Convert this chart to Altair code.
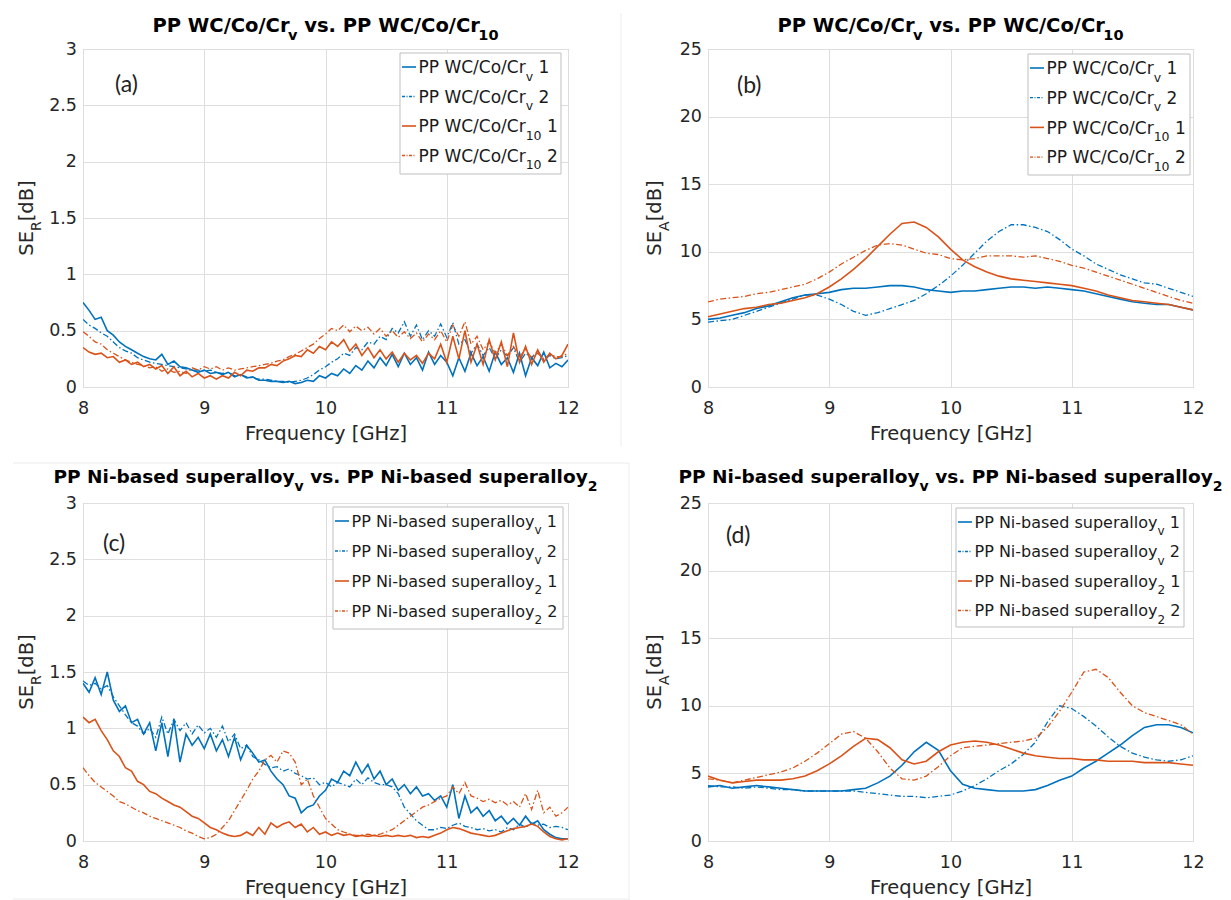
import altair as alt
import pandas as pd

# ---------------- data ----------------
FREQ_R = [8.00, 8.05, 8.10, 8.15, 8.20, 8.25, 8.30, 8.35, 8.40, 8.45,
          8.50, 8.55, 8.60, 8.65, 8.70, 8.75, 8.80, 8.85, 8.90, 8.95,
          9.00, 9.05, 9.10, 9.15, 9.20, 9.25, 9.30, 9.35, 9.40, 9.45,
          9.50, 9.55, 9.60, 9.65, 9.70, 9.75, 9.80, 9.85, 9.90, 9.95,
          10.00, 10.05, 10.10, 10.15, 10.20, 10.25, 10.30, 10.35, 10.40, 10.45,
          10.50, 10.55, 10.60, 10.65, 10.70, 10.75, 10.80, 10.85, 10.90, 10.95,
          11.00, 11.05, 11.10, 11.15, 11.20, 11.25, 11.30, 11.35, 11.40, 11.45,
          11.50, 11.55, 11.60, 11.65, 11.70, 11.75, 11.80, 11.85, 11.90, 11.95,
          12.00]
FREQ_A = [8.0, 8.1, 8.2, 8.3, 8.4, 8.5, 8.6, 8.7, 8.8, 8.9,
          9.0, 9.1, 9.2, 9.3, 9.4, 9.5, 9.6, 9.7, 9.8, 9.9,
          10.0, 10.1, 10.2, 10.3, 10.4, 10.5, 10.6, 10.7, 10.8, 10.9,
          11.0, 11.1, 11.2, 11.3, 11.4, 11.5, 11.6, 11.7, 11.8, 11.9,
          12.0]

# (a) SE_R, PP WC/Co/Cr
SER_WC_V1 = [0.75, 0.68, 0.60, 0.62, 0.50, 0.46, 0.40, 0.36, 0.33, 0.30, 0.27, 0.25, 0.24, 0.29, 0.20, 0.23, 0.18, 0.17, 0.15, 0.13,
             0.15, 0.12, 0.13, 0.11, 0.13, 0.09, 0.11, 0.08, 0.09, 0.06, 0.06, 0.05, 0.05, 0.04, 0.05, 0.03, 0.04, 0.06, 0.05, 0.10,
             0.08, 0.12, 0.10, 0.16, 0.12, 0.19, 0.15, 0.23, 0.17, 0.26, 0.19, 0.29, 0.18, 0.30, 0.20, 0.26, 0.15, 0.31, 0.20, 0.28,
             0.22, 0.10, 0.26, 0.14, 0.30, 0.19, 0.27, 0.14, 0.31, 0.20, 0.26, 0.13, 0.30, 0.10, 0.26, 0.19, 0.31, 0.17, 0.21, 0.18,
             0.24]
SER_WC_V2 = [0.60, 0.55, 0.52, 0.48, 0.45, 0.40, 0.35, 0.32, 0.30, 0.26, 0.24, 0.22, 0.21, 0.20, 0.19, 0.18, 0.17, 0.16, 0.15, 0.15,
             0.14, 0.15, 0.13, 0.12, 0.13, 0.10, 0.11, 0.09, 0.08, 0.07, 0.07, 0.06, 0.05, 0.05, 0.04, 0.05, 0.06, 0.08, 0.11, 0.15,
             0.18, 0.22, 0.25, 0.30, 0.28, 0.35, 0.33, 0.40, 0.38, 0.45, 0.42, 0.52, 0.48, 0.58, 0.45, 0.55, 0.42, 0.50, 0.45, 0.56,
             0.44, 0.57, 0.38, 0.42, 0.30, 0.38, 0.28, 0.35, 0.25, 0.33, 0.27, 0.35, 0.22, 0.30, 0.26, 0.32, 0.24, 0.28, 0.25, 0.26,
             0.28]
SER_WC_10_1 = [0.35, 0.31, 0.29, 0.30, 0.26, 0.27, 0.22, 0.24, 0.20, 0.22, 0.18, 0.20, 0.16, 0.19, 0.12, 0.18, 0.10, 0.14, 0.09, 0.12,
               0.08, 0.10, 0.07, 0.10, 0.08, 0.13, 0.10, 0.15, 0.14, 0.17, 0.17, 0.20, 0.19, 0.23, 0.25, 0.28, 0.27, 0.33, 0.30, 0.36,
               0.33, 0.40, 0.36, 0.42, 0.32, 0.38, 0.28, 0.35, 0.26, 0.33, 0.25, 0.31, 0.22, 0.30, 0.24, 0.28, 0.21, 0.30, 0.25, 0.38,
               0.22, 0.45, 0.25, 0.50, 0.22, 0.38, 0.20, 0.42, 0.24, 0.40, 0.18, 0.48, 0.22, 0.36, 0.20, 0.33, 0.22, 0.30, 0.25, 0.28,
               0.38]
SER_WC_10_2 = [0.49, 0.45, 0.40, 0.38, 0.33, 0.30, 0.27, 0.24, 0.22, 0.20, 0.19, 0.17, 0.18, 0.14, 0.16, 0.13, 0.14, 0.12, 0.17, 0.15,
               0.18, 0.16, 0.18, 0.15, 0.17, 0.15, 0.16, 0.17, 0.18, 0.19, 0.20, 0.21, 0.23, 0.24, 0.27, 0.29, 0.32, 0.35, 0.38, 0.43,
               0.47, 0.52, 0.50, 0.55, 0.49, 0.54, 0.50, 0.53, 0.47, 0.52, 0.45, 0.50, 0.44, 0.49, 0.43, 0.48, 0.40, 0.47, 0.42, 0.50,
               0.40, 0.55, 0.45, 0.58, 0.38, 0.45, 0.33, 0.40, 0.30, 0.38, 0.28, 0.36, 0.27, 0.33, 0.26, 0.30, 0.25, 0.29, 0.27, 0.27,
               0.30]

# (b) SE_A, PP WC/Co/Cr
SEA_WC_V1 = [5.0, 5.1, 5.3, 5.5, 5.8, 6.0, 6.3, 6.6, 6.8, 6.9, 7.0, 7.2, 7.3, 7.3, 7.4, 7.5, 7.5, 7.4, 7.2, 7.1,
             7.0, 7.1, 7.1, 7.2, 7.3, 7.4, 7.4, 7.3, 7.4, 7.3, 7.2, 7.1, 6.9, 6.7, 6.5, 6.3, 6.2, 6.1, 6.1, 5.9, 5.7]
SEA_WC_V2 = [4.8, 4.9, 5.0, 5.3, 5.6, 5.9, 6.2, 6.5, 6.8, 6.8, 6.5, 6.1, 5.6, 5.3, 5.5, 5.8, 6.1, 6.4, 6.9, 7.5,
             8.2, 9.0, 9.9, 10.8, 11.5, 12.0, 12.0, 11.8, 11.5, 10.9, 10.2, 9.7, 9.1, 8.7, 8.3, 8.0, 7.7, 7.6, 7.3, 7.0, 6.7]
SEA_WC_10_1 = [5.2, 5.4, 5.6, 5.8, 5.9, 6.1, 6.2, 6.4, 6.6, 6.9, 7.4, 8.0, 8.7, 9.5, 10.4, 11.3, 12.1, 12.2, 11.8, 11.1,
               10.2, 9.4, 8.9, 8.5, 8.2, 8.0, 7.9, 7.8, 7.7, 7.6, 7.5, 7.3, 7.1, 6.8, 6.6, 6.4, 6.3, 6.2, 6.1, 5.9, 5.7]
SEA_WC_10_2 = [6.3, 6.5, 6.6, 6.7, 6.9, 7.0, 7.2, 7.4, 7.6, 8.0, 8.5, 9.1, 9.6, 10.1, 10.5, 10.6, 10.5, 10.2, 9.9, 9.8,
               9.5, 9.4, 9.5, 9.7, 9.7, 9.7, 9.6, 9.7, 9.5, 9.3, 9.0, 8.8, 8.5, 8.2, 7.9, 7.6, 7.3, 7.0, 6.7, 6.4, 6.2]

# (c) SE_R, PP Ni-based superalloy
SER_NI_V1 = [1.40, 1.32, 1.45, 1.30, 1.50, 1.25, 1.15, 1.20, 1.05, 1.08, 0.95, 1.05, 0.80, 1.05, 0.75, 1.08, 0.70, 0.95, 0.85, 0.92,
             0.82, 0.95, 0.80, 0.90, 0.75, 0.92, 0.72, 0.85, 0.78, 0.70, 0.72, 0.62, 0.55, 0.50, 0.40, 0.38, 0.25, 0.30, 0.32, 0.40,
             0.45, 0.55, 0.52, 0.62, 0.58, 0.70, 0.60, 0.68, 0.55, 0.62, 0.50, 0.55, 0.45, 0.50, 0.42, 0.48, 0.40, 0.42, 0.36, 0.40,
             0.30, 0.50, 0.20, 0.40, 0.25, 0.30, 0.22, 0.27, 0.18, 0.22, 0.15, 0.20, 0.14, 0.22, 0.15, 0.18, 0.10, 0.06, 0.03, 0.02,
             0.02]
SER_NI_V2 = [1.42, 1.38, 1.40, 1.35, 1.38, 1.28, 1.20, 1.12, 1.05, 1.02, 0.95, 1.00, 0.92, 1.10, 0.95, 1.08, 0.98, 1.05, 0.95, 1.03,
             0.96, 1.00, 0.92, 1.02, 0.88, 0.95, 0.82, 0.85, 0.75, 0.72, 0.68, 0.65, 0.66, 0.62, 0.64, 0.60, 0.58, 0.55, 0.56, 0.50,
             0.52, 0.48, 0.52, 0.50, 0.48, 0.55, 0.50, 0.56, 0.52, 0.50, 0.50, 0.48, 0.42, 0.30, 0.24, 0.18, 0.14, 0.10, 0.10, 0.12,
             0.11, 0.14, 0.16, 0.13, 0.12, 0.10, 0.11, 0.09, 0.10, 0.08, 0.12, 0.10, 0.15, 0.12, 0.16, 0.14, 0.15, 0.12, 0.13, 0.12,
             0.10]
SER_NI_2_1 = [1.10, 1.05, 1.08, 0.98, 0.90, 0.80, 0.75, 0.65, 0.62, 0.53, 0.50, 0.44, 0.42, 0.38, 0.35, 0.32, 0.30, 0.26, 0.22, 0.20,
              0.16, 0.12, 0.10, 0.07, 0.05, 0.04, 0.05, 0.08, 0.05, 0.12, 0.06, 0.16, 0.12, 0.15, 0.17, 0.12, 0.15, 0.08, 0.12, 0.06,
              0.08, 0.05, 0.07, 0.05, 0.06, 0.04, 0.05, 0.04, 0.05, 0.04, 0.05, 0.04, 0.05, 0.04, 0.05, 0.03, 0.04, 0.03, 0.05, 0.07,
              0.10, 0.12, 0.11, 0.09, 0.07, 0.06, 0.05, 0.04, 0.05, 0.07, 0.09, 0.11, 0.12, 0.13, 0.15, 0.13, 0.08, 0.04, 0.02, 0.01,
              0.02]
SER_NI_2_2 = [0.65, 0.58, 0.52, 0.48, 0.44, 0.40, 0.35, 0.33, 0.30, 0.27, 0.25, 0.22, 0.20, 0.18, 0.16, 0.14, 0.12, 0.09, 0.07, 0.04,
              0.02, 0.03, 0.06, 0.12, 0.18, 0.27, 0.36, 0.45, 0.55, 0.62, 0.72, 0.76, 0.70, 0.80, 0.78, 0.70, 0.50, 0.55, 0.40, 0.30,
              0.20, 0.15, 0.10, 0.08, 0.06, 0.05, 0.05, 0.06, 0.05, 0.06, 0.08, 0.10, 0.14, 0.18, 0.22, 0.26, 0.30, 0.32, 0.35, 0.38,
              0.40, 0.48, 0.42, 0.52, 0.40, 0.38, 0.35, 0.37, 0.34, 0.36, 0.32, 0.35, 0.30, 0.42, 0.28, 0.45, 0.25, 0.30, 0.22, 0.25,
              0.30]

# (d) SE_A, PP Ni-based superalloy
SEA_NI_V1 = [4.0, 4.1, 3.9, 4.0, 4.1, 4.0, 3.9, 3.8, 3.7, 3.7, 3.7, 3.7, 3.8, 3.9, 4.3, 4.8, 5.6, 6.6, 7.3, 6.7,
             5.2, 4.2, 3.9, 3.8, 3.7, 3.7, 3.7, 3.8, 4.1, 4.5, 4.8, 5.4, 5.9, 6.5, 7.1, 7.8, 8.4, 8.6, 8.6, 8.4, 8.0]
SEA_NI_V2 = [4.1, 4.0, 4.0, 3.9, 4.0, 3.9, 3.8, 3.8, 3.7, 3.7, 3.7, 3.7, 3.7, 3.6, 3.5, 3.4, 3.3, 3.3, 3.2, 3.3,
             3.4, 3.7, 4.1, 4.6, 5.2, 5.7, 6.4, 7.3, 8.8, 10.0, 9.8, 9.2, 8.5, 7.7, 7.0, 6.5, 6.2, 6.0, 5.9, 6.0, 6.3]
SEA_NI_2_1 = [4.8, 4.5, 4.3, 4.4, 4.5, 4.5, 4.5, 4.6, 4.8, 5.2, 5.7, 6.3, 7.0, 7.6, 7.5, 6.9, 6.0, 5.7, 5.9, 6.6,
              7.1, 7.3, 7.4, 7.3, 7.1, 6.8, 6.5, 6.3, 6.2, 6.1, 6.1, 6.0, 6.0, 5.9, 5.9, 5.9, 5.8, 5.8, 5.8, 5.7, 5.6]
SEA_NI_2_2 = [4.6, 4.5, 4.3, 4.5, 4.7, 4.9, 5.1, 5.4, 5.9, 6.5, 7.2, 7.9, 8.1, 7.6, 6.6, 5.4, 4.6, 4.5, 4.8, 5.5,
              6.3, 6.9, 7.0, 7.1, 7.2, 7.3, 7.4, 7.6, 8.4, 9.6, 11.0, 12.5, 12.7, 12.1, 11.0, 10.0, 9.5, 9.2, 8.9, 8.6, 7.9]

X_TICKS = [8, 9, 10, 11, 12]
Y_TICKS_R = [0, 0.5, 1, 1.5, 2, 2.5, 3]
Y_TICKS_A = [0, 5, 10, 15, 20, 25]

# ---------------- style ----------------
FONT = "DejaVu Sans"
BLUE = "#0072BD"
ORANGE = "#D95319"
TXT = "#262626"
W, H = 485, 338
DASH = [6, 2.5, 1.5, 2.5]
ORIGIN_X, ORIGIN_Y = 82, 48   # where the first panel's plot area starts

# DejaVu Sans advance widths (em/1000) to place subscripts
REG = {" ": 318, "(": 390, ")": 390, "-": 361, ".": 318, "/": 337, "A": 684, "B": 686, "C": 698,
       "E": 632, "N": 748, "P": 603, "R": 695, "S": 635, "W": 989, "[": 390, "]": 390,
       "a": 613, "b": 635, "d": 635, "e": 615, "i": 278, "l": 278, "o": 612, "p": 635,
       "r": 411, "s": 521, "u": 634, "v": 592, "y": 592}
BOLD = {" ": 348, "-": 416, ".": 381, "/": 365, "C": 734, "N": 836, "P": 732, "W": 1026,
        "a": 675, "b": 716, "d": 716, "e": 678, "i": 343, "l": 343, "o": 688, "p": 716,
        "r": 493, "s": 595, "u": 712, "v": 652, "y": 652}


def tw(s, size, bold=False):
    tbl = BOLD if bold else REG
    w = 0.0
    for ch in s:
        if ch.isdigit():
            w += 696 if bold else 636
        else:
            w += tbl.get(ch, 600)
    return w * size / 1000.0


ONE = alt.Data(values=[{"k": 0}])


def text_layer(x, y, s, size, bold=False, angle=None, font=FONT, color=TXT,
               baseline="alphabetic", align="left"):
    props = dict(text=s, font=font, fontSize=size,
                 fontWeight="bold" if bold else "normal", color=color,
                 align=align, baseline=baseline)
    if angle is not None:
        props["angle"] = angle
    return alt.Chart(ONE).mark_text(**props).encode(x=alt.value(x), y=alt.value(y))


def rich_h(pieces, x0, y, size, sub_size, sub_dy, bold=False, center=False, color=TXT):
    widths = [tw(s, sub_size if sub else size, bold) for s, sub in pieces]
    x = x0 - sum(widths) / 2 if center else x0
    out = []
    for (s, sub), w in zip(pieces, widths):
        fs = sub_size if sub else size
        lead = len(s) - len(s.lstrip(" "))
        xx = x + tw(" " * lead, fs, bold)
        out.append(text_layer(xx, y + (sub_dy if sub else 0), s.strip(" "), fs, bold, color=color))
        x += w
    return out


def rich_v(pieces, x, cy, size, sub_size, sub_dx):
    widths = [tw(s, sub_size if sub else size) for s, sub in pieces]
    y = cy + sum(widths) / 2
    out = []
    for (s, sub), w in zip(pieces, widths):
        fs = sub_size if sub else size
        out.append(text_layer(x + (sub_dx if sub else 0), y, s, fs, angle=270))
        y -= w
    return out


def lines(freq, series, ymax, yticks, yfmt):
    xax = alt.Axis(values=X_TICKS, title="Frequency [GHz]", titleY=52.5,
                   titleBaseline="alphabetic", labelPadding=12, labelFlush=False,
                   labelOverlap=False, ticks=False, tickSize=0, domain=False,
                   grid=True)
    yax = alt.Axis(values=yticks, format=yfmt, title=None, labelPadding=6.5,
                   labelFlush=False, labelOverlap=False, ticks=False, tickSize=0,
                   domain=False, grid=True)
    out = []
    for vals, color, dashed in series:
        df = pd.DataFrame({"f": freq, "v": vals})
        kw = dict(color=color, strokeWidth=1.3 if dashed else 1.6, clip=True)
        if dashed:
            kw["strokeDash"] = DASH
        out.append(alt.Chart(df).mark_line(**kw).encode(
            x=alt.X("f:Q", scale=alt.Scale(domain=[8, 12], nice=False, zero=False), axis=xax),
            y=alt.Y("v:Q", scale=alt.Scale(domain=[0, ymax], nice=False), axis=yax)))
    return out


def legend(box, labels, size, sub_size, sub_dy, row0, rowstep):
    x1, x2, y1, y2 = box
    out = [alt.Chart(ONE).mark_rect(fill="white", stroke="#BFBFBF", strokeWidth=1).encode(
        x=alt.value(x1), x2=alt.value(x2), y=alt.value(y1), y2=alt.value(y2))]
    for i, (pieces, color, dashed) in enumerate(labels):
        cy = y1 + row0 + rowstep * i
        kw = dict(color=color, strokeWidth=1.6 if not dashed else 1.3)
        if dashed:
            kw["strokeDash"] = [3, 1.5, 1, 1.5]
        out.append(alt.Chart(ONE).mark_rule(**kw).encode(
            x=alt.value(x1 + 2), x2=alt.value(x1 + 16), y=alt.value(cy)))
        out += rich_h(pieces, x1 + 18.5, cy + 0.365 * size, size, sub_size, sub_dy, color="#1A1A1A")
    return out


def frame_lines():
    # faint borders of the sub-figures in the composed picture (page coordinates)
    segs = [(620, 12, 620, 445), (12, 462, 628, 462), (628, 462, 628, 900), (12, 898, 628, 898)]
    out = []
    for x1, y1, x2, y2 in segs:
        out.append(alt.Chart(ONE).mark_rule(color="#ECECEC", strokeWidth=1).encode(
            x=alt.value(x1 - ORIGIN_X), x2=alt.value(x2 - ORIGIN_X),
            y=alt.value(y1 - ORIGIN_Y), y2=alt.value(y2 - ORIGIN_Y)))
    return out


def panel(freq, series, ymax, yticks, yfmt, title, tsize, tsub, tbase, ysub, ytx,
          leg_labels, leg_box, lsize, lsub, lstep, tag, tag_xy, anchor=False):
    layers = []
    if anchor:
        layers += frame_lines()
    layers += lines(freq, series, ymax, yticks, yfmt)
    layers += rich_h(title, W / 2, tbase, tsize, tsub, 8, bold=True, center=True, color="#000000")
    layers += rich_v([("SE", False), (ysub, True), ("[dB]", False)], ytx, H / 2, 19.5, 14, 8)
    layers += legend(leg_box, leg_labels, lsize, lsub, 7.5, 14, lstep)
    layers.append(text_layer(tag_xy[0], tag_xy[1], tag, 23, font="Lato", color="#222222",
                             baseline="middle"))
    if anchor:
        layers.append(alt.Chart(ONE).mark_point(opacity=0, size=1).encode(
            x=alt.value(-ORIGIN_X + 0.5), y=alt.value(-ORIGIN_Y + 0.5)))
    return alt.layer(*layers).properties(width=W, height=H)


WC = "PP WC/Co/Cr"
NI = "PP Ni-based superalloy"
title_wc = [(WC, False), ("v", True), (" vs. " + WC, False), ("10", True)]
title_ni = [(NI, False), ("v", True), (" vs. " + NI, False), ("2", True)]
leg_wc = [([(WC, False), ("v", True), (" 1", False)], BLUE, False),
          ([(WC, False), ("v", True), (" 2", False)], BLUE, True),
          ([(WC, False), ("10", True), (" 1", False)], ORANGE, False),
          ([(WC, False), ("10", True), (" 2", False)], ORANGE, True)]
leg_ni = [([(NI, False), ("v", True), (" 1", False)], BLUE, False),
          ([(NI, False), ("v", True), (" 2", False)], BLUE, True),
          ([(NI, False), ("2", True), (" 1", False)], ORANGE, False),
          ([(NI, False), ("2", True), (" 2", False)], ORANGE, True)]

pa = panel(FREQ_R, [(SER_WC_V1, BLUE, False), (SER_WC_V2, BLUE, True),
                    (SER_WC_10_1, ORANGE, False), (SER_WC_10_2, ORANGE, True)],
           3, Y_TICKS_R, ".1~f", title_wc, 19.5, 14.5, -17, "R", -50,
           leg_wc, (317, 478, 4, 125), 17, 12.5, 29.5, "(a)", (32, 36), anchor=True)
pb = panel(FREQ_A, [(SEA_WC_V1, BLUE, False), (SEA_WC_V2, BLUE, True),
                    (SEA_WC_10_1, ORANGE, False), (SEA_WC_10_2, ORANGE, True)],
           25, Y_TICKS_A, "d", title_wc, 19.5, 14.5, -17, "A", -47,
           leg_wc, (320, 482, 5, 126), 17, 12.5, 29.7, "(b)", (29, 37))
pc = panel(FREQ_R, [(SER_NI_V1, BLUE, False), (SER_NI_V2, BLUE, True),
                    (SER_NI_2_1, ORANGE, False), (SER_NI_2_2, ORANGE, True)],
           3, Y_TICKS_R, ".1~f", title_ni, 18.5, 14, -20.5, "R", -50,
           leg_ni, (250, 480, 4, 126), 16, 12, 30, "(c)", (20, 41))
pd_ = panel(FREQ_A, [(SEA_NI_V1, BLUE, False), (SEA_NI_V2, BLUE, True),
                     (SEA_NI_2_1, ORANGE, False), (SEA_NI_2_2, ORANGE, True)],
            25, Y_TICKS_A, "d", title_ni, 18.5, 14, -20.5, "A", -47,
            leg_ni, (248, 476, 5, 124), 16, 12, 29.5, "(d)", (18, 33))

chart = alt.concat(pa, pb, pc, pd_, columns=2,
                   spacing={"row": 116, "column": 140}, bounds="flush").properties(
    padding=0, background="white"
).configure_axis(
    labelFont=FONT, labelFontSize=17.5, labelColor=TXT,
    titleFont=FONT, titleFontSize=19.5, titleColor=TXT, titleFontWeight="normal",
    gridColor="#DEDEDE", gridWidth=1
).configure_view(stroke="#BDBDBD", strokeWidth=1)

chart.save("out.html", embed_options={"renderer": "svg", "actions": False})
